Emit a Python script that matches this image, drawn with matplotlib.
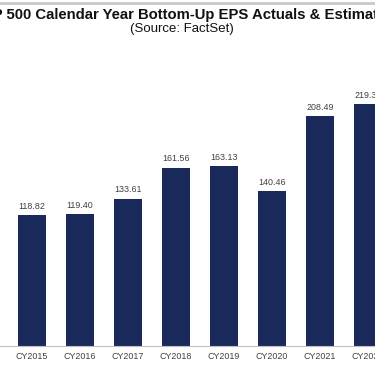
import matplotlib.pyplot as plt
from matplotlib.lines import Line2D

years = ["CY2015", "CY2016", "CY2017", "CY2018", "CY2019", "CY2020", "CY2021", "CY2022"]
eps = [118.82, 119.40, 133.61, 161.56, 163.13, 140.46, 208.49, 219.33]
labels = ["118.82", "119.40", "133.61", "161.56", "163.13", "140.46", "208.49", "219.33"]

plt.rcParams["font.family"] = ["Liberation Sans", "DejaVu Sans"]

fig = plt.figure(figsize=(3.75, 3.66), dpi=100)
ax = fig.add_axes([0, 20 / 366, 1, 346 / 366])

x = range(len(years))
ax.bar(x, eps, width=0.59, color="#19295a")
for i, v in enumerate(eps):
    ax.text(i, v + 4, labels[i], ha="center", va="bottom", fontsize=6.4, color="#404040")

ax.set_xlim(-0.667, 7.146)
ax.set_ylim(0, 313.7)
ax.set_xticks(list(x))
ax.set_xticklabels(years, fontsize=6.4, color="#404040")
ax.tick_params(axis="x", length=0, pad=4)
ax.set_yticks([])
for s in ["top", "right", "left"]:
    ax.spines[s].set_visible(False)
ax.spines["bottom"].set_color("#bfbfbf")
ax.spines["bottom"].set_linewidth(0.8)

fig.text(183 / 375, 1 - 15 / 366, "S&P 500 Calendar Year Bottom-Up EPS Actuals & Estimates",
         ha="center", va="center", fontsize=10.7, fontweight="bold", color="#111111")
fig.text(182 / 375, 1 - 29 / 366, "(Source: FactSet)", ha="center", va="center",
         fontsize=9.5, color="#111111")
fig.add_artist(Line2D([0, 1], [1 - 2.5 / 366, 1 - 2.5 / 366], transform=fig.transFigure,
                      color="#c8c8c8", linewidth=2))

fig.savefig("out.png", dpi=100)
